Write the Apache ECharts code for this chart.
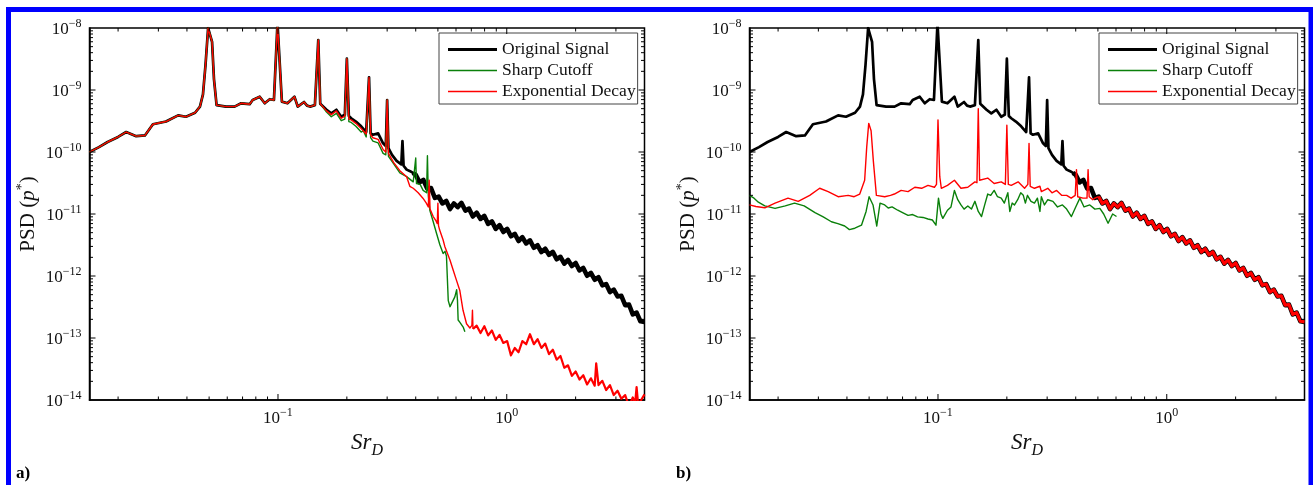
<!DOCTYPE html>
<html><head><meta charset="utf-8">
<script src="https://cdn.jsdelivr.net/npm/echarts@6/dist/echarts.min.js"></script>
<style>html,body{margin:0;padding:0;background:#fff;} #c{width:1313px;height:485px;}</style>
</head><body><div id="c"></div>
<script>
// ---------------- DATA ----------------
const SERIES_NAMES = ['Original Signal', 'Sharp Cutoff', 'Exponential Decay'];
const X_MIN = 0.015, X_MAX = 4, Y_MIN = 1e-14, Y_MAX = 1e-8;

const xMajorTicks = [0.1, 1];
const xMinorTicks = [0.02, 0.03, 0.04, 0.05, 0.06, 0.07, 0.08, 0.09, 0.2, 0.3, 0.4, 0.5, 0.6, 0.7, 0.8, 0.9, 2, 3];
const yMajorTicks = [1e-13, 1e-12, 1e-11, 1e-10, 1e-9];
const yMinorTicks = [
  2e-14, 3e-14, 4e-14, 5e-14, 6e-14, 7e-14, 8e-14, 9e-14,
  2e-13, 3e-13, 4e-13, 5e-13, 6e-13, 7e-13, 8e-13, 9e-13,
  2e-12, 3e-12, 4e-12, 5e-12, 6e-12, 7e-12, 8e-12, 9e-12,
  2e-11, 3e-11, 4e-11, 5e-11, 6e-11, 7e-11, 8e-11, 9e-11,
  2e-10, 3e-10, 4e-10, 5e-10, 6e-10, 7e-10, 8e-10, 9e-10,
  2e-9, 3e-9, 4e-9, 5e-9, 6e-9, 7e-9, 8e-9, 9e-9
];

// Original signal, low frequencies (shared by all curves of panel a)
const origLow = [
  [0.0150, 1.0e-10], [0.0165, 1.2e-10], [0.0180, 1.45e-10], [0.0200, 1.75e-10], [0.0217, 2.1e-10],
  [0.0240, 1.8e-10], [0.0262, 1.85e-10], [0.0284, 2.8e-10], [0.0324, 3.1e-10], [0.0366, 3.9e-10],
  [0.0396, 3.7e-10], [0.0434, 4.3e-10], [0.0456, 5.4e-10], [0.0470, 8.5e-10], [0.0482, 2.5e-9],
  [0.0495, 1.0e-8], [0.0505, 1.0e-8], [0.0515, 6.0e-9], [0.0525, 1.5e-9], [0.0539, 5.7e-10],
  [0.0593, 5.4e-10], [0.0646, 5.4e-10], [0.0690, 6.1e-10], [0.0752, 5.9e-10], [0.0775, 6.9e-10],
  [0.0832, 7.8e-10], [0.0875, 6.1e-10], [0.0920, 7.1e-10], [0.0960, 6.9e-10], [0.0977, 7.0e-10],
  [0.0995, 1.2e-8], [0.1015, 1.2e-8], [0.1040, 6.5e-10], [0.1100, 6.1e-10], [0.1180, 7.8e-10],
  [0.1220, 5.4e-10], [0.1300, 6.4e-10], [0.1340, 5.6e-10], [0.1380, 5.4e-10], [0.1450, 5.7e-10],
  [0.1470, 6.0e-10], [0.1500, 6.4e-9], [0.1530, 6.0e-10], [0.1550, 5.7e-10]
];
// Original signal, mid frequencies
const origMid = [
  [0.163, 4.8e-10], [0.171, 4.2e-10], [0.180, 4.8e-10], [0.189, 3.7e-10], [0.196, 4.0e-10],
  [0.200, 3.2e-9], [0.204, 3.8e-10], [0.209, 3.5e-10], [0.219, 3.1e-10], [0.231, 2.6e-10],
  [0.243, 2.1e-10], [0.246, 2.0e-10], [0.250, 1.6e-9], [0.254, 2.0e-10], [0.260, 1.9e-10],
  [0.274, 2.0e-10], [0.288, 1.38e-10], [0.296, 1.25e-10], [0.300, 6.9e-10], [0.304, 1.15e-10],
  [0.315, 9.0e-11], [0.330, 7.2e-11], [0.346, 6.3e-11], [0.350, 1.5e-10], [0.354, 6.0e-11],
  [0.365, 5.2e-11], [0.378, 4.9e-11], [0.389, 4.6e-11]
];
// Original signal, high frequencies
const fHi = [0.400, 0.416, 0.432, 0.449, 0.466, 0.485, 0.504, 0.523, 0.544, 0.565, 0.587, 0.610, 0.634, 0.659, 0.684, 0.711,
  0.739, 0.768, 0.798, 0.829, 0.861, 0.895, 0.930, 0.966, 1.004, 1.043, 1.084, 1.126, 1.170, 1.216, 1.263, 1.313, 1.364,
  1.417, 1.473, 1.530, 1.590, 1.652, 1.717, 1.784, 1.853, 1.926, 2.001, 2.079, 2.160, 2.245, 2.332, 2.423, 2.518, 2.617,
  2.719, 2.825, 2.935, 3.050, 3.169, 3.293, 3.421, 3.555, 3.694, 3.838, 4.000];
const origHiP = [4.27e-11, 3.24e-11, 3.55e-11, 2.57e-11, 2.63e-11, 1.82e-11, 1.91e-11, 1.48e-11, 1.62e-11, 1.20e-11,
  1.48e-11, 1.29e-11, 1.51e-11, 1.135e-11, 1.22e-11, 9.12e-12, 1.05e-11, 8.32e-12, 9.33e-12, 6.92e-12, 7.59e-12,
  5.75e-12, 6.61e-12, 5.13e-12, 5.75e-12, 4.37e-12, 4.79e-12, 3.67e-12, 4.22e-12, 3.35e-12, 3.76e-12, 2.85e-12,
  3.13e-12, 2.43e-12, 2.75e-12, 2.19e-12, 2.45e-12, 1.86e-12, 2.04e-12, 1.58e-12, 1.82e-12, 1.445e-12, 1.62e-12,
  1.23e-12, 1.35e-12, 1.01e-12, 1.12e-12, 8.71e-13, 9.55e-13, 7.08e-13, 7.41e-13, 5.50e-13, 6.03e-13, 4.68e-13,
  4.79e-13, 3.39e-13, 3.47e-13, 2.40e-13, 2.57e-13, 1.86e-13, 1.82e-13];

// Panel a: Sharp cutoff above 0.155
const greenAMid = [
  [0.163, 4.4e-10], [0.171, 3.7e-10], [0.180, 4.2e-10], [0.189, 3.2e-10], [0.196, 3.4e-10], [0.200, 3.2e-9],
  [0.204, 3.1e-10], [0.209, 3.0e-10], [0.219, 2.6e-10], [0.231, 2.1e-10], [0.236, 2.2e-10], [0.243, 1.75e-10],
  [0.246, 1.7e-10], [0.250, 1.5e-9], [0.254, 1.7e-10], [0.260, 1.5e-10], [0.274, 1.4e-10], [0.288, 9.5e-11],
  [0.296, 9.0e-11], [0.300, 6.9e-10], [0.304, 8.5e-11], [0.320, 6.5e-11], [0.341, 4.6e-11], [0.365, 4.0e-11],
  [0.390, 3.3e-11], [0.397, 3.2e-11], [0.400, 8.0e-11], [0.403, 3.1e-11], [0.418, 3.0e-11], [0.431, 2.4e-11],
  [0.446, 2.2e-11], [0.450, 8.7e-11], [0.454, 2.0e-11], [0.461, 1.15e-11], [0.477, 7.5e-12], [0.493, 4.9e-12],
  [0.510, 3.2e-12], [0.527, 2.3e-12], [0.537, 2.5e-12], [0.545, 2.1e-12], [0.552, 2.0e-12], [0.555, 4.0e-13],
  [0.565, 3.2e-13], [0.573, 3.4e-13], [0.593, 4.6e-13], [0.604, 6.0e-13], [0.609, 4.0e-13], [0.613, 1.95e-13],
  [0.623, 1.8e-13], [0.634, 1.7e-13], [0.645, 1.5e-13], [0.656, 1.26e-13]
];
// Panel a: Exponential decay above 0.155
const redAMid = [
  [0.163, 4.6e-10], [0.171, 4.0e-10], [0.180, 4.6e-10], [0.189, 3.5e-10], [0.196, 3.8e-10], [0.200, 3.2e-9],
  [0.204, 3.4e-10], [0.209, 3.3e-10], [0.219, 2.9e-10], [0.231, 2.4e-10], [0.243, 1.95e-10], [0.246, 1.9e-10],
  [0.250, 1.6e-9], [0.254, 1.9e-10], [0.260, 1.7e-10], [0.274, 1.6e-10], [0.288, 1.1e-10], [0.296, 1.0e-10],
  [0.300, 6.9e-10], [0.304, 9.5e-11], [0.320, 6.8e-11], [0.341, 5.0e-11], [0.365, 4.0e-11], [0.377, 2.8e-11],
  [0.390, 2.6e-11], [0.410, 2.2e-11], [0.430, 1.8e-11], [0.445, 1.5e-11], [0.454, 1.3e-11], [0.458, 3.5e-11],
  [0.462, 1.2e-11], [0.477, 9.1e-12], [0.490, 7.8e-12], [0.497, 7.0e-12], [0.500, 1.5e-11], [0.503, 6.5e-12],
  [0.509, 5.5e-12], [0.527, 3.8e-12], [0.536, 3.0e-12], [0.545, 2.9e-12], [0.565, 1.8e-12], [0.583, 1.25e-12],
  [0.603, 8.5e-13], [0.623, 5.9e-13], [0.644, 2.8e-13], [0.667, 1.7e-13], [0.690, 1.45e-13], [0.704, 1.6e-13],
  [0.708, 2.8e-13], [0.712, 1.4e-13]
];
const redATail = [
  [0.739, 1.58e-13], [0.768, 1.20e-13], [0.798, 1.55e-13], [0.829, 1.10e-13], [0.861, 1.32e-13], [0.895, 9.33e-14],
  [0.930, 1.12e-13], [0.966, 8.32e-14], [1.004, 8.91e-14], [1.043, 5.25e-14], [1.084, 6.92e-14], [1.126, 5.89e-14],
  [1.170, 8.91e-14], [1.216, 7.94e-14], [1.263, 1.15e-13], [1.313, 7.94e-14], [1.364, 9.55e-14], [1.417, 6.92e-14],
  [1.473, 8.13e-14], [1.530, 5.50e-14], [1.590, 6.46e-14], [1.652, 4.47e-14], [1.717, 5.13e-14], [1.784, 3.31e-14],
  [1.853, 3.63e-14], [1.926, 2.45e-14], [2.001, 2.88e-14], [2.079, 2.14e-14], [2.160, 2.51e-14], [2.245, 1.78e-14],
  [2.332, 2.24e-14], [2.423, 1.70e-14], [2.460, 3.89e-14], [2.518, 1.74e-14], [2.617, 2.04e-14], [2.719, 1.45e-14],
  [2.825, 1.74e-14], [2.935, 1.20e-14], [3.050, 1.41e-14], [3.169, 1.05e-14], [3.293, 1.20e-14], [3.421, 7.94e-15],
  [3.555, 1.10e-14], [3.640, 8.9e-15], [3.694, 1.62e-14], [3.750, 8.7e-15], [3.838, 9.55e-15], [4.000, 1.23e-14]
];

// Panel b: Sharp cutoff
const greenB = [
  [0.0150, 2.0e-11], [0.0157, 1.8e-11], [0.0164, 1.55e-11], [0.0175, 1.35e-11], [0.0194, 1.23e-11], [0.0215, 1.35e-11],
  [0.0236, 1.5e-11], [0.0260, 1.35e-11], [0.0290, 1.05e-11], [0.0315, 9.0e-12], [0.0342, 7.5e-12], [0.0365, 7.0e-12],
  [0.0391, 6.4e-12], [0.0410, 5.6e-12], [0.0433, 5.9e-12], [0.0463, 6.6e-12], [0.0485, 1.1e-11], [0.0500, 1.9e-11],
  [0.0520, 1.4e-11], [0.0540, 6.4e-12], [0.0558, 1.5e-11], [0.0585, 1.4e-11], [0.0606, 1.25e-11], [0.0630, 1.3e-11],
  [0.0667, 1.15e-11], [0.0700, 1.05e-11], [0.0740, 9.5e-12], [0.0775, 9.8e-12], [0.0814, 9.0e-12], [0.0860, 8.8e-12],
  [0.0904, 8.3e-12], [0.0945, 8.0e-12], [0.0980, 6.6e-12], [0.1005, 1.8e-11], [0.1030, 1.0e-11], [0.1050, 8.5e-12],
  [0.1100, 1.15e-11], [0.1140, 1.3e-11], [0.1180, 2.4e-11], [0.1220, 1.7e-11], [0.1260, 1.4e-11], [0.1300, 1.2e-11],
  [0.1350, 1.35e-11], [0.1400, 1.2e-11], [0.1450, 1.6e-11], [0.1500, 1.1e-11], [0.1550, 9.1e-12], [0.1600, 1.4e-11],
  [0.1650, 2.1e-11], [0.1700, 2.0e-11], [0.1760, 2.4e-11], [0.1820, 1.9e-11], [0.1890, 1.8e-11], [0.1950, 1.5e-11],
  [0.2020, 2.2e-11], [0.2060, 1.1e-11], [0.2110, 1.5e-11], [0.2160, 1.4e-11], [0.2230, 1.7e-11], [0.2300, 2.2e-11],
  [0.2360, 2.0e-11], [0.2410, 1.5e-11], [0.2460, 2.0e-11], [0.2550, 1.6e-11], [0.2640, 1.5e-11], [0.2720, 1.8e-11],
  [0.2790, 1.1e-11], [0.2830, 1.9e-11], [0.2920, 1.4e-11], [0.3020, 1.7e-11], [0.3180, 1.6e-11], [0.3330, 1.3e-11],
  [0.3500, 1.4e-11], [0.3650, 1.2e-11], [0.3830, 9.1e-12], [0.4000, 1.3e-11], [0.4170, 1.8e-11], [0.4350, 1.3e-11],
  [0.4610, 1.4e-11], [0.4850, 1.2e-11], [0.5100, 1.23e-11], [0.5300, 1.0e-11], [0.5540, 7.1e-12], [0.5800, 1.0e-11],
  [0.6030, 9.1e-12]
];
// Panel b: Exponential decay, low part (joins the original signal above ~0.5)
const redBLow = [
  [0.0150, 1.4e-11], [0.0160, 1.32e-11], [0.0175, 1.26e-11], [0.0194, 1.5e-11], [0.0221, 1.8e-11], [0.0245, 1.6e-11],
  [0.0275, 2.0e-11], [0.0304, 2.6e-11], [0.0331, 2.3e-11], [0.0366, 1.9e-11], [0.0405, 2.0e-11], [0.0430, 1.9e-11],
  [0.0455, 2.1e-11], [0.0478, 3.5e-11], [0.0488, 1.2e-10], [0.0498, 2.9e-10], [0.0510, 2.2e-10], [0.0522, 7.0e-11],
  [0.0538, 2.0e-11], [0.0585, 1.9e-11], [0.0620, 2.0e-11], [0.0645, 2.1e-11], [0.0690, 2.4e-11], [0.0740, 2.3e-11],
  [0.0792, 2.7e-11], [0.0848, 2.6e-11], [0.0904, 2.9e-11], [0.0965, 2.7e-11], [0.0985, 3.0e-11], [0.1000, 3.3e-10],
  [0.1018, 4.0e-11], [0.1034, 2.6e-11], [0.1100, 2.9e-11], [0.1180, 3.5e-11], [0.1260, 2.6e-11], [0.1350, 2.7e-11],
  [0.1450, 3.3e-11], [0.1480, 3.2e-11], [0.1500, 5.0e-10], [0.1520, 3.5e-11], [0.1550, 3.3e-11], [0.1650, 3.8e-11],
  [0.1760, 3.1e-11], [0.1890, 3.3e-11], [0.1970, 3.0e-11], [0.2000, 2.7e-10], [0.2030, 3.0e-11], [0.2090, 2.9e-11],
  [0.2240, 3.3e-11], [0.2390, 2.6e-11], [0.2470, 3.0e-11], [0.2500, 1.38e-10], [0.2530, 2.8e-11], [0.2640, 2.6e-11],
  [0.2790, 2.8e-11], [0.2830, 2.3e-11], [0.3020, 2.6e-11], [0.3150, 2.2e-11], [0.3300, 2.4e-11], [0.3470, 2.0e-11],
  [0.3650, 2.0e-11], [0.3820, 1.8e-11], [0.3980, 2.0e-11], [0.4030, 5.2e-11], [0.4080, 1.9e-11], [0.4300, 1.8e-11],
  [0.4480, 1.8e-11], [0.4530, 5.2e-11], [0.4580, 1.9e-11], [0.4750, 1.7e-11], [0.4850, 1.8e-11]
];

// ---------------- BUILD ----------------
const origHi = fHi.map((f, i) => [f, origHiP[i]]);
const blackMain = origLow.concat(origMid, origHi.slice(0, 1));
const blackNoisy = origMid.slice(-1).concat(origHi);
const greenAData = origLow.concat(greenAMid);
const redAMain = origLow.concat(redAMid);
const redANoisy = redAMid.slice(-1).concat(redATail);
const redBMain = redBLow.concat(origHi.slice(6, 7));
const redBNoisy = origHi.slice(6);

const FONT = 'Liberation Serif';
const TXT = '#111';
const GRIDS = [
  { left: 89.5, top: 28, width: 555, height: 372 },
  { left: 749.5, top: 28, width: 555, height: 372 }
];

const labelRich = {
  b: { fontFamily: FONT, fontSize: 17, lineHeight: 20, verticalAlign: 'bottom', color: TXT },
  s: { fontFamily: FONT, fontSize: 12, lineHeight: 12, verticalAlign: 'top', color: TXT }
};
function powLabel(v) {
  const e = Math.round(Math.log10(v));
  if (Math.abs(v / Math.pow(10, e) - 1) > 1e-6) return '';
  return '{b|10}{s|' + (e < 0 ? '\u2212' + (-e) : String(e)) + '}';
}

function makeX(gi) {
  return {
    type: 'log', logBase: 10, gridIndex: gi, min: X_MIN, max: X_MAX,
    name: '{i|Sr}{d|D}', nameLocation: 'middle', nameGap: 24,
    nameTextStyle: {
      rich: {
        i: { fontFamily: FONT, fontStyle: 'italic', fontSize: 23, lineHeight: 24, verticalAlign: 'top', color: TXT },
        d: { fontFamily: FONT, fontStyle: 'italic', fontSize: 16, lineHeight: 27, verticalAlign: 'bottom', color: TXT }
      }
    },
    axisLine: { show: true, onZero: false, lineStyle: { color: '#000', width: 1.5 } },
    axisTick: { show: false }, splitLine: { show: false },
    axisLabel: { interval: 0, margin: 7, formatter: powLabel, rich: labelRich, showMinLabel: false, showMaxLabel: false }
  };
}
function makeY(gi) {
  return {
    type: 'log', logBase: 10, gridIndex: gi, min: Y_MIN, max: Y_MAX,
    name: '{n|PSD (}{i|p}{s|*}{n|)}', nameLocation: 'middle', nameGap: 51,
    nameTextStyle: {
      rich: {
        n: { fontFamily: FONT, fontSize: 21, lineHeight: 23, verticalAlign: 'bottom', color: TXT },
        i: { fontFamily: FONT, fontStyle: 'italic', fontSize: 21, lineHeight: 23, verticalAlign: 'bottom', color: TXT },
        s: { fontFamily: FONT, fontSize: 14, lineHeight: 14, verticalAlign: 'top', color: TXT }
      }
    },
    axisLine: { show: true, onZero: false, lineStyle: { color: '#000', width: 1.5 } },
    axisTick: { show: false }, splitLine: { show: false },
    axisLabel: { interval: 0, margin: 8, formatter: powLabel, rich: labelRich }
  };
}

const tickData = [].concat(
  xMajorTicks.map(v => [v, Y_MIN, 0]),
  xMinorTicks.map(v => [v, Y_MIN, 1]),
  yMajorTicks.map(v => [X_MIN, v, 2]),
  yMinorTicks.map(v => [X_MIN, v, 3])
);
function renderTicks(params, api) {
  const kind = api.value(2);
  const cs = params.coordSys;
  const len = (kind % 2 === 0) ? 6 : 3.5;
  const st = { stroke: '#000', lineWidth: 1 };
  if (kind < 2) {
    const x = api.coord([api.value(0), Y_MIN])[0];
    const b = cs.y + cs.height, t = cs.y;
    return { type: 'group', children: [
      { type: 'line', shape: { x1: x, y1: b, x2: x, y2: b - len }, style: st },
      { type: 'line', shape: { x1: x, y1: t, x2: x, y2: t + len }, style: st }
    ] };
  }
  const y = api.coord([X_MIN, api.value(1)])[1];
  const l = cs.x, r = cs.x + cs.width;
  return { type: 'group', children: [
    { type: 'line', shape: { x1: l, y1: y, x2: l + len, y2: y }, style: st },
    { type: 'line', shape: { x1: r, y1: y, x2: r - len, y2: y }, style: st }
  ] };
}

function lineSeries(name, gi, data, color, width) {
  return {
    type: 'line', name: name, xAxisIndex: gi, yAxisIndex: gi, data: data,
    symbol: 'none', showSymbol: false, clip: true, silent: true,
    lineStyle: { color: color, width: width, join: 'round' }, itemStyle: { color: color }
  };
}
function tickSeries(gi) {
  return { type: 'custom', xAxisIndex: gi, yAxisIndex: gi, data: tickData, renderItem: renderTicks, silent: true, z: 5, clip: false };
}
const ICON_THICK = 'path://M0,0M49,16M0,6.5L49,6.5L49,9.5L0,9.5Z';
const ICON_THIN = 'path://M0,0M49,16M0,7.3L49,7.3L49,8.7L0,8.7Z';
function makeLegend(left) {
  return {
    left: left, top: 33, orient: 'vertical', selectedMode: false,
    data: [
      { name: SERIES_NAMES[0], icon: ICON_THICK },
      { name: SERIES_NAMES[1], icon: ICON_THIN },
      { name: SERIES_NAMES[2], icon: ICON_THIN }
    ],
    itemWidth: 49, itemHeight: 16, itemGap: 3, padding: [7.5, 2, 3.5, 9],
    itemStyle: { borderWidth: 0 },
    borderColor: '#444', borderWidth: 1, backgroundColor: '#fff',
    textStyle: { fontFamily: FONT, fontSize: 17.5, lineHeight: 17, color: TXT }
  };
}

const BLACK = '#000000', GREEN = '#0a800a', RED = '#ff0000';
const option = {
  animation: false,
  backgroundColor: '#fff',
  grid: GRIDS.map(g => Object.assign({ show: true, borderColor: '#000', borderWidth: 1.5, backgroundColor: 'transparent', containLabel: false }, g)),
  xAxis: [makeX(0), makeX(1)],
  yAxis: [makeY(0), makeY(1)],
  legend: [makeLegend(439), makeLegend(1099)],
  series: [
    lineSeries(SERIES_NAMES[0], 0, blackMain, BLACK, 2.7),
    lineSeries(SERIES_NAMES[0], 0, blackNoisy, BLACK, 4.6),
    lineSeries(SERIES_NAMES[1], 0, greenAData, GREEN, 1.4),
    lineSeries(SERIES_NAMES[2], 0, redAMain, RED, 1.4),
    lineSeries(SERIES_NAMES[2], 0, redANoisy, RED, 2.2),
    tickSeries(0),
    lineSeries(SERIES_NAMES[0], 1, blackMain, BLACK, 2.7),
    lineSeries(SERIES_NAMES[0], 1, blackNoisy, BLACK, 4.6),
    lineSeries(SERIES_NAMES[1], 1, greenB, GREEN, 1.4),
    lineSeries(SERIES_NAMES[2], 1, redBMain, RED, 1.4),
    lineSeries(SERIES_NAMES[2], 1, redBNoisy, RED, 3.2),
    tickSeries(1)
  ],
  graphic: [
    { type: 'rect', silent: true, z: 100, shape: { x: 8.5, y: 9.5, width: 1302.5, height: 520 },
      style: { fill: 'none', stroke: '#0000ff', lineWidth: 5 } },
    { type: 'text', left: 16, top: 465, silent: true, style: { text: 'a)', font: 'bold 17px "Liberation Serif"', fill: '#000' } },
    { type: 'text', left: 676, top: 465, silent: true, style: { text: 'b)', font: 'bold 17px "Liberation Serif"', fill: '#000' } }
  ]
};

const chart = echarts.init(document.getElementById('c'), null, { renderer: 'canvas' });
chart.setOption(option);
</script></body></html>
